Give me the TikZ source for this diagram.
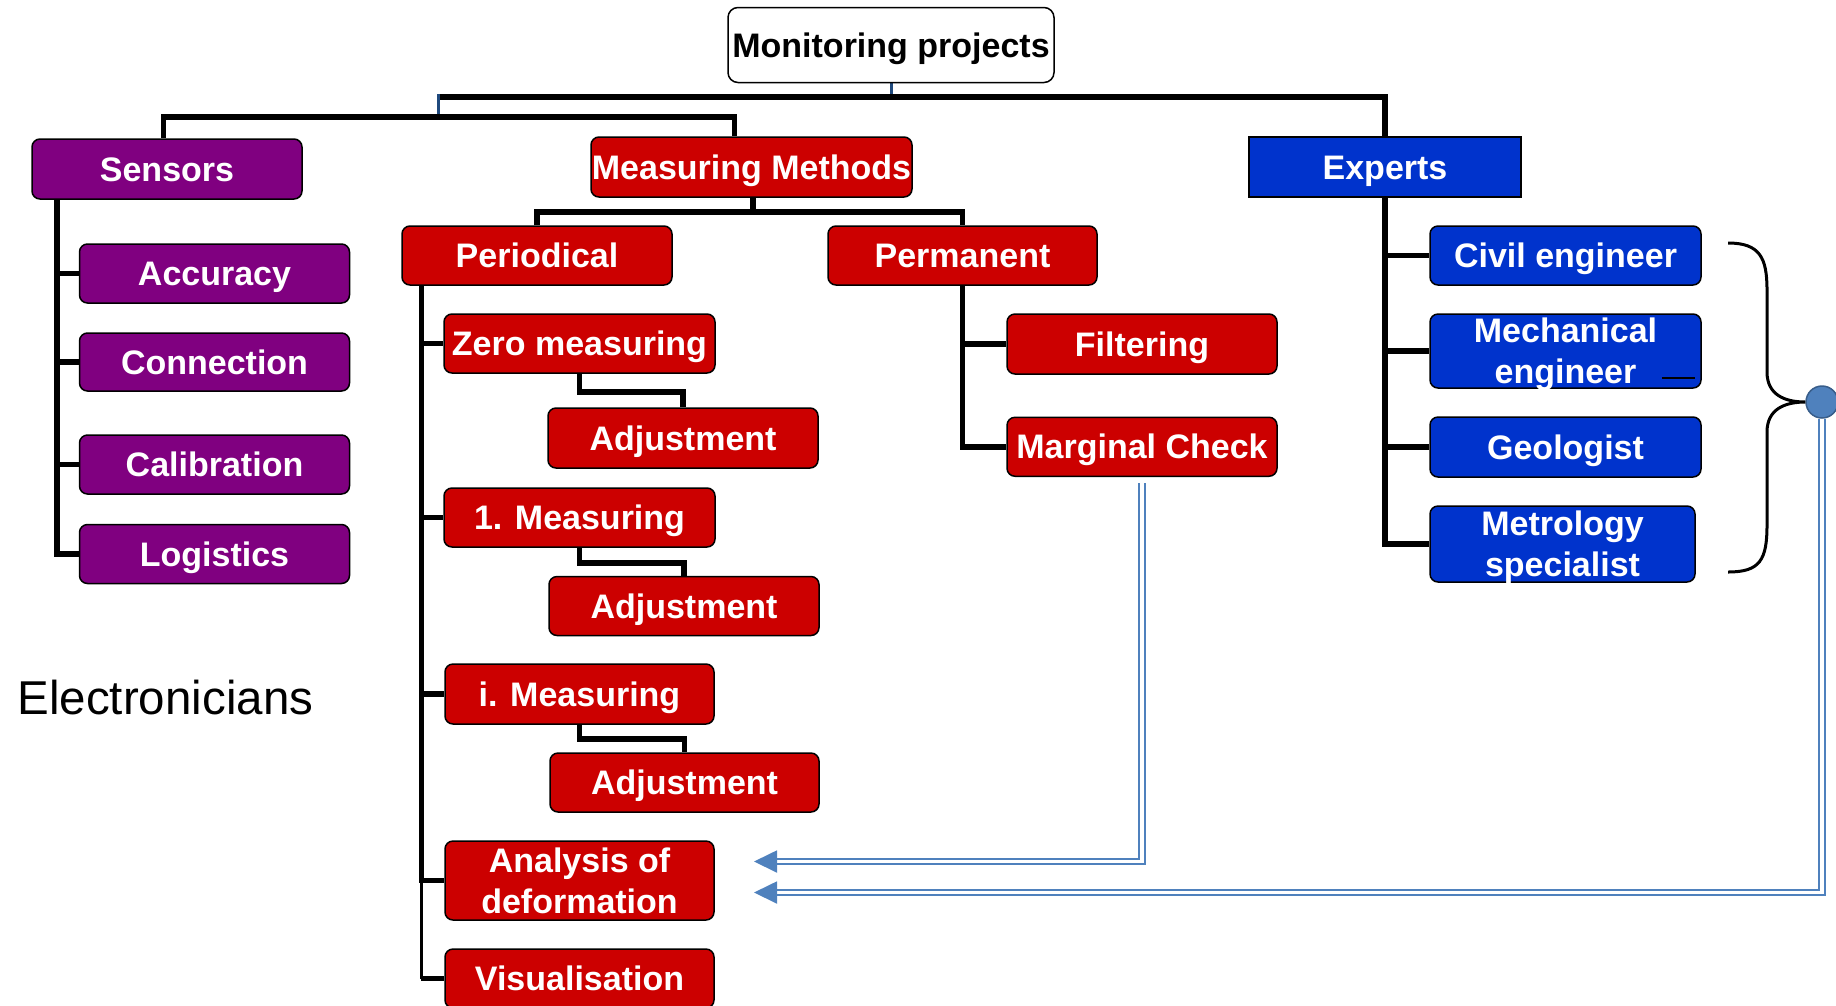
\documentclass[tikz,border=0pt]{standalone}
\usepackage{fontspec}
\setmainfont{Liberation Sans}
\usetikzlibrary{arrows.meta}
\definecolor{purp}{RGB}{128,0,128}
\definecolor{redb}{RGB}{204,0,0}
\definecolor{blueb}{RGB}{0,51,204}
\definecolor{link}{RGB}{79,129,189}
\definecolor{linkdark}{RGB}{56,93,138}
\definecolor{tickblue}{RGB}{31,73,125}
\pgfdeclarelayer{bg}
\pgfsetlayers{bg,main}

\begin{document}
\begin{tikzpicture}[x=1pt,y=-1pt,
  box/.style={draw=black, line width=1.5pt, rounded corners=8pt, text=white,
    font=\fontsize{34}{41}\selectfont\bfseries, inner sep=0pt,
    text height=26pt, text depth=2pt, minimum height=59pt},
  pbox/.style={box, fill=purp, minimum width=270pt},
  rbox/.style={box, fill=redb, minimum width=270pt},
  bbox/.style={box, fill=blueb, minimum width=271pt},
  twoline/.style={align=center, text height=67pt, text depth=2pt},
  conn/.style={line width=5.5pt, draw=black},
  thinconn/.style={line width=3pt, draw=black},
  tick/.style={line width=3pt, draw=tickblue},
  dblink/.style={draw=link, line width=1.8pt, double=white, double distance=3.5pt,
    -{Triangle[length=23pt,width=22pt]}},
]
\clip (0,0) rectangle (1836,1005);

% root
\node[box, fill=white, text=black, minimum width=326pt, minimum height=75pt, rounded corners=10pt] (mon) at (891,45) {Monitoring projects};

% first level
\node[pbox, minimum height=60pt] (sens) at (167,169) {Sensors};
\node[rbox, minimum width=321pt, minimum height=60pt] (mm) at (751.5,167) {Measuring Methods};
\node[bbox, sharp corners, minimum width=272pt, minimum height=60pt] (exp) at (1385,167) {Experts};

% sensors
\node[pbox] (acc) at (214.5,273.5) {Accuracy};
\node[pbox, minimum height=58pt] (con) at (214.5,362) {Connection};
\node[pbox] (cal) at (214.5,464.5) {Calibration};
\node[pbox] (logi) at (214.5,554) {Logistics};

% measuring methods
\node[rbox] (per) at (537,255.5) {Periodical};
\node[rbox, minimum width=269pt] (perm) at (962.5,255.5) {Permanent};
\node[rbox, minimum width=271pt] (zero) at (579.5,343.5) {Zero measuring};
\node[rbox, minimum height=60pt] (adja) at (683,438) {Adjustment};
\node[rbox, minimum width=271pt] (mone) at (579.5,517.5) {1. Measuring};
\node[rbox] (adjb) at (684,606) {Adjustment};
\node[rbox, minimum width=269pt, minimum height=60pt] (mi) at (579.5,694) {i. Measuring};
\node[rbox, minimum width=269pt] (adjc) at (684.5,782.5) {Adjustment};
\node[rbox, twoline, minimum width=269pt, minimum height=79pt] (ana) at (579.5,880.5) {Analysis of\\deformation};
\node[rbox, minimum width=269pt] (vis) at (579.5,978.5) {Visualisation};
\node[rbox, minimum height=60pt] (filt) at (1142,344) {Filtering};
\node[rbox] (marg) at (1142,446.75) {Marginal Check};

% experts
\node[bbox] (civ) at (1565.5,255.5) {Civil engineer};
\node[bbox, twoline, minimum height=74pt] (mech) at (1565.5,351) {Mechanical\\engineer};
\node[bbox, minimum height=60pt] (geo) at (1565.5,447) {Geologist};
\node[bbox, twoline, minimum width=265pt, minimum height=76pt] (metro) at (1562.5,544) {Metrology\\specialist};
\draw[line width=2.5pt] ([shift={(-40pt,11pt)}]mech.south east) -- ++(33,0);

% merge point of the experts
\node[circle, fill=link, draw=linkdark, line width=1.5pt, minimum size=32pt, inner sep=0pt] (circ) at (1822,402) {};
\draw[line width=3pt] (1728,243) .. controls (1760,243) and (1767,258) .. (1767,290)
  -- (1767,372) .. controls (1767,395) and (1785,402) .. (circ.west)
  .. controls (1785,402) and (1767,409) .. (1767,432)
  -- (1767,525) .. controls (1767,560) and (1760,572) .. (1728,572);

\node[anchor=base west, font=\fontsize{47.5}{56}\selectfont] (elec) at (14,714) {Electronicians};

\begin{pgfonlayer}{bg}
  % top level tree
  \coordinate (jt) at (438.5,97);
  \coordinate (js) at (438.5,117);
  \coordinate (mv) at ([xshift=-17pt]mm.north);
  \draw[tick] (mon.south) -- (mon.south |- jt);
  \draw[conn] (jt) -| (exp.north);
  \draw[tick] ([yshift=3pt]jt) -- (js);
  \draw[conn] ([xshift=-3.5pt]sens.north) |- (js) -| (mv);

  % sensors branch
  \coordinate (sv) at ([xshift=25.5pt]sens.south west);
  \foreach \n in {acc,con,cal,logi} \draw[conn] (sv) |- (\n.west);

  % measuring methods branch
  \draw[conn] ([xshift=1.5pt]mm.south) -- ++(0,14) coordinate (mb);
  \draw[conn] (per.north) |- (mb) -| (perm.north);
  \coordinate (pv) at ([xshift=20pt]per.south west);
  \foreach \n in {zero,mone,mi,ana} \draw[conn] (pv) |- (\n.west);
  \draw[thinconn] (pv |- ana.west) -- (pv |- vis.west);
  \draw[conn] (pv |- vis.west) -- (vis.west);
  \draw[conn] (zero.south) -- ++(0,18) -| (adja.north);
  \draw[conn] (mone.south) -- ++(0,15) -| (adjb.north);
  \draw[conn] (mi.south) -- ++(0,14) -| (adjc.north);
  \draw[conn] (perm.south) |- (filt.west);
  \draw[conn] (perm.south) |- (marg.west);

  % experts branch
  \foreach \n in {civ,mech,geo,metro} \draw[conn] (exp.south) |- (\n.west);
\end{pgfonlayer}

% feedback arrows
\coordinate (ta) at (754,861.5);
\coordinate (tb) at (754,892.5);
\draw[dblink] ([yshift=-6pt]marg.south) |- (ta);
\draw[dblink] (circ.south) |- (tb);
\end{tikzpicture}
\end{document}
